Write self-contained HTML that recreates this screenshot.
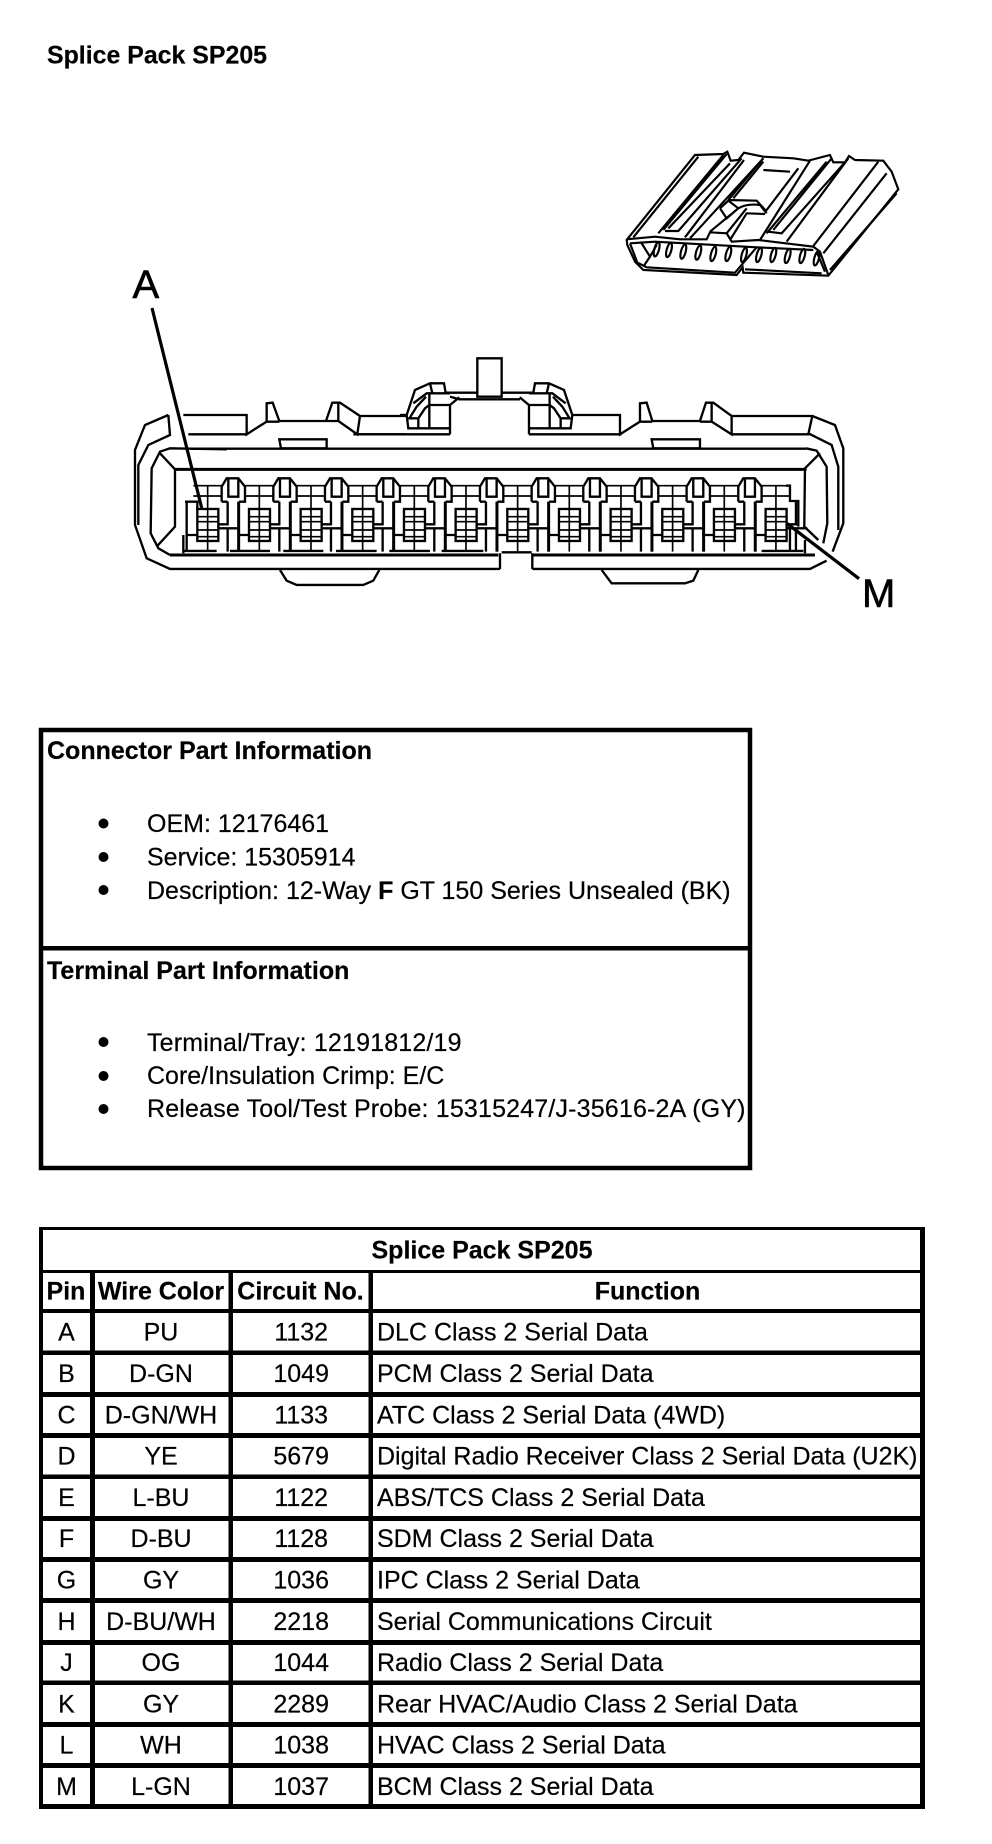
<!DOCTYPE html>
<html><head><meta charset="utf-8"><title>Splice Pack SP205</title>
<style>
html,body{margin:0;padding:0;background:#fff}
svg{display:block}
text{font-family:"Liberation Sans",Arial,sans-serif;fill:#000;font-size:25px;stroke:#000;stroke-width:.2px}
.b{font-weight:bold;font-size:25px}
.m{text-anchor:middle}
.d{fill:none;stroke:#000;stroke-width:7;stroke-linejoin:miter}
.t{stroke-width:5}
.k{stroke-width:9}
</style></head><body>
<svg width="992" height="1844" viewBox="0 0 992 1844" xmlns="http://www.w3.org/2000/svg">
<rect width="992" height="1844" fill="#fff"/>
<defs>
<g id="cell">
<rect x="0" y="507" width="63" height="96"/>
<path class="t" d="M0,530H63M0,545H63M0,570H63M0,590H63M31,507V603"/>
<path class="t" d="M31,437V507M31,603V635M-12,437H73M-12,468H73"/>
<path d="M-32,485V635M-32,585H0M91,485V553H63M63,565H125M91,565V635"/>
</g>
<g id="latch">
<path d="M73,485V440L88,415H123L143,440V485H125M73,485H91M93,415V470H123V415"/>
<path d="M125,485V635"/>
</g>
</defs>

<text class="b" x="47" y="63.5" textLength="220" lengthAdjust="spacingAndGlyphs">Splice Pack SP205</text>

<!-- isometric connector -->
<g class="d" transform="translate(600,130) scale(.3333)" style="stroke-width:6.5">
<path d="M80,330L285,75L370,72L382,65L392,92L415,90L432,68L490,80L580,85L625,92L690,75L700,97L735,97L747,78L765,90L850,92L875,125L895,178L685,437L430,428L428,412L410,435L130,420L105,395L82,345Z"/>
<path d="M100,322L295,80M175,310L370,75M190,300L380,72M195,303L235,303L425,85M205,295L390,100M255,322L432,90M270,325L490,85"/>
<path d="M80,328L165,320L240,328L320,328L330,307L380,310L395,335L475,330L640,350L660,365L685,435"/>
<path d="M90,340L165,335L470,352L640,360M90,340L112,398L140,412L405,428L470,352M435,418L665,430M650,365L675,425M125,340L150,380L170,345M150,380L130,410"/>
<path d="M385,210L490,85M400,205L490,95M385,210L470,212L500,245M500,240L595,115M490,120L570,125M360,235L385,212L415,235L380,265L360,235M330,305L415,235M415,235Q440,220 480,225L500,250M390,330L440,250L495,252M380,310L440,235"/>
<path d="M480,330L630,92M500,310L680,95M505,305L545,310L735,97M520,300L695,85M560,335L745,85M640,348L835,95M670,370L860,130M690,420L890,190"/>
<ellipse cx="170" cy="358" rx="7" ry="22" transform="rotate(15 170 358)"/>
<ellipse cx="207" cy="360" rx="7" ry="22" transform="rotate(15 207 360)"/>
<ellipse cx="250" cy="365" rx="7" ry="22" transform="rotate(15 250 365)"/>
<ellipse cx="295" cy="368" rx="7" ry="22" transform="rotate(15 295 368)"/>
<ellipse cx="340" cy="372" rx="7" ry="22" transform="rotate(15 340 372)"/>
<ellipse cx="385" cy="372" rx="7" ry="22" transform="rotate(15 385 372)"/>
<ellipse cx="432" cy="375" rx="7" ry="22" transform="rotate(15 432 375)"/>
<ellipse cx="477" cy="375" rx="7" ry="22" transform="rotate(15 477 375)"/>
<ellipse cx="520" cy="375" rx="7" ry="22" transform="rotate(15 520 375)"/>
<ellipse cx="563" cy="378" rx="7" ry="22" transform="rotate(15 563 378)"/>
<ellipse cx="607" cy="378" rx="7" ry="22" transform="rotate(15 607 378)"/>
<ellipse cx="650" cy="385" rx="7" ry="22" transform="rotate(15 650 385)"/>
</g>

<!-- main connector: left half coordinates -->
<g class="d" transform="translate(120,340) scale(.3333)">
<path d="M145,225L75,255L45,330V555L80,655L150,687H1140"/>
<path d="M145,225L150,285L85,315L55,375V555"/>
<path d="M320,328L150,325L120,335L95,385L92,580L115,625L150,645"/>
<path d="M120,340L165,388V560L110,620"/>
<path class="k" d="M165,388H2060"/>
<path d="M215,326H2058"/>
<path d="M190,225H380V283L440,245V190L458,188L478,243H618L637,188H660L720,228L712,283L655,243V190M440,245H478M618,243H655M205,283H380M712,283H860M720,228H860"/>
<path d="M478,298H620V325H483Z"/>
<path d="M480,690L500,722L530,735H730L760,722L778,690"/>
<path class="k" d="M150,645H1135"/>
<path d="M190,633H290M330,633H450M490,633H610M648,633H770M808,633H930M965,633H1090"/>
<path d="M190,585V640M195,485H232V510"/>
<use href="#cell" x="232"/><use href="#latch" x="232"/>
<use href="#cell" x="387"/><use href="#latch" x="387"/>
<use href="#cell" x="542"/><use href="#latch" x="542"/>
<use href="#cell" x="697"/><use href="#latch" x="697"/>
<use href="#cell" x="852"/><use href="#latch" x="852"/>
<use href="#cell" x="1007"/><use href="#latch" x="1007"/>
<use href="#cell" x="1162"/><use href="#latch" x="1162"/>
<use href="#cell" x="1317"/><use href="#latch" x="1317"/>
<use href="#cell" x="1472"/><use href="#latch" x="1472"/>
<use href="#cell" x="1627"/><use href="#latch" x="1627"/>
<use href="#cell" x="1782"/><use href="#latch" x="1782"/>
<use href="#cell" x="1937"/>
</g>

<!-- main connector: right half coordinates -->
<g class="d" transform="translate(400,340) scale(.3333)">
<path d="M232,55H305V170H232Z"/>
<path d="M20,225L45,150L90,130H132L137,158H232M90,130L97,160M20,225L25,265H150M40,190L80,160H150M30,232L50,200L78,170M55,265V235L75,205L88,195H150M88,160V265M25,235H55M150,283V195L178,172M150,170L178,178H360"/>
<path d="M517,225L492,150L447,130H405L400,158H305M447,130L440,160M517,225L512,265H387M497,190L457,160H387M507,232L487,200L459,170M482,265V235L462,205L449,195H387M449,160V265M512,235H482M387,283V195L359,172"/>
<path d="M0,225H20"/>
<path d="M-140,283H150M387,283H665M517,225H660V283L720,245V190L740,188L757,243H900L918,188H940L995,228V283L935,245V190M720,245H757M900,245H935"/>
<path d="M995,228H1237L1225,283H995"/>
<path d="M755,298H900V325H760Z"/>
<path d="M1237,228L1305,255L1330,325V550L1298,635M1225,280L1295,315L1315,380V570"/>
<path d="M1218,325L1250,332L1280,380L1282,550L1270,610"/>
<path d="M1260,340L1215,385L1213,560L1255,600"/>
<path d="M605,690L635,730H855L880,722L895,690"/>
<path d="M397,687H1230L1280,662"/>
<path d="M300,640V687M397,640V687M305,637H395"/>
<path class="k" d="M397,645H1245"/>
<path d="M1085,633H1210M1215,600V640"/>
<path d="M1158,437H1170V483H1195V560M1160,565H1170V635"/>
</g>

<!-- leaders and labels -->
<path d="M152,308L201.7,508M786.7,523.3L859,578.7" stroke="#000" stroke-width="3.2" fill="none"/>
<text x="132.5" y="298" style="font-size:40px;stroke-width:.6px">A</text>
<text x="862" y="607" style="font-size:40px;stroke-width:.6px">M</text>

<!-- part info box -->
<rect x="41" y="730" width="709" height="438" fill="none" stroke="#000" stroke-width="4.5"/>
<rect x="41" y="946" width="709" height="4.5" fill="#000"/>
<text class="b" x="47" y="759">Connector Part Information</text>
<text x="147" y="832">OEM: 12176461</text>
<text x="147" y="865.5">Service: 15305914</text>
<text x="147" y="899">Description: 12-Way <tspan font-weight="bold">F</tspan> GT 150 Series Unsealed (BK)</text>
<text class="b" x="47" y="979">Terminal Part Information</text>
<text x="147" y="1051" textLength="314.5">Terminal/Tray: 12191812/19</text>
<text x="147" y="1084">Core/Insulation Crimp: E/C</text>
<text x="147" y="1117" textLength="598.5">Release Tool/Test Probe: 15315247/J-35616-2A (GY)</text>
<circle cx="103.5" cy="823.5" r="5"/><circle cx="103.5" cy="857" r="5"/><circle cx="103.5" cy="890" r="5"/>
<circle cx="103.5" cy="1042" r="5"/><circle cx="103.5" cy="1076" r="5"/><circle cx="103.5" cy="1109" r="5"/>

<!-- table -->
<rect x="39" y="1227" width="886" height="3" fill="#000"/>
<rect x="39" y="1227" width="4" height="582" fill="#000"/>
<rect x="920" y="1227" width="5" height="582" fill="#000"/>
<rect x="39" y="1804" width="886" height="5" fill="#000"/>
<rect x="39" y="1270" width="886" height="3" fill="#000"/>
<rect x="39" y="1309" width="886" height="4" fill="#000"/>
<rect x="39" y="1350.5" width="886" height="4.5" fill="#000"/>
<rect x="39" y="1392" width="886" height="5" fill="#000"/>
<rect x="39" y="1433" width="886" height="5" fill="#000"/>
<rect x="39" y="1474.5" width="886" height="4.5" fill="#000"/>
<rect x="39" y="1516" width="886" height="5" fill="#000"/>
<rect x="39" y="1557" width="886" height="5" fill="#000"/>
<rect x="39" y="1598" width="886" height="5" fill="#000"/>
<rect x="39" y="1640" width="886" height="5" fill="#000"/>
<rect x="39" y="1680.5" width="886" height="4.5" fill="#000"/>
<rect x="39" y="1722" width="886" height="5" fill="#000"/>
<rect x="39" y="1763" width="886" height="5" fill="#000"/>
<rect x="90" y="1270" width="5" height="539" fill="#000"/>
<rect x="228.5" y="1270" width="4.5" height="539" fill="#000"/>
<rect x="368.5" y="1270" width="4.5" height="539" fill="#000"/>

<text class="b m" x="482" y="1258.5">Splice Pack SP205</text>
<text class="b m" x="66" y="1299.5">Pin</text>
<text class="b m" x="161" y="1299.5">Wire Color</text>
<text class="b m" x="300.5" y="1299.5">Circuit No.</text>
<text class="b m" x="647.5" y="1299.5">Function</text>

<text class="m" x="66.5" y="1340.7">A</text><text class="m" x="161" y="1340.7">PU</text><text class="m" x="301.2" y="1340.7">1132</text><text x="377" y="1340.7">DLC Class 2 Serial Data</text>
<text class="m" x="66.5" y="1382">B</text><text class="m" x="161" y="1382">D-GN</text><text class="m" x="301.2" y="1382">1049</text><text x="377" y="1382">PCM Class 2 Serial Data</text>
<text class="m" x="66.5" y="1423.3">C</text><text class="m" x="161" y="1423.3">D-GN/WH</text><text class="m" x="301.2" y="1423.3">1133</text><text x="377" y="1423.3">ATC Class 2 Serial Data (4WD)</text>
<text class="m" x="66.5" y="1464.6">D</text><text class="m" x="161" y="1464.6">YE</text><text class="m" x="301.2" y="1464.6">5679</text><text x="377" y="1464.6">Digital Radio Receiver Class 2 Serial Data (U2K)</text>
<text class="m" x="66.5" y="1505.9">E</text><text class="m" x="161" y="1505.9">L-BU</text><text class="m" x="301.2" y="1505.9">1122</text><text x="377" y="1505.9">ABS/TCS Class 2 Serial Data</text>
<text class="m" x="66.5" y="1547.2">F</text><text class="m" x="161" y="1547.2">D-BU</text><text class="m" x="301.2" y="1547.2">1128</text><text x="377" y="1547.2">SDM Class 2 Serial Data</text>
<text class="m" x="66.5" y="1588.5">G</text><text class="m" x="161" y="1588.5">GY</text><text class="m" x="301.2" y="1588.5">1036</text><text x="377" y="1588.5">IPC Class 2 Serial Data</text>
<text class="m" x="66.5" y="1629.8">H</text><text class="m" x="161" y="1629.8">D-BU/WH</text><text class="m" x="301.2" y="1629.8">2218</text><text x="377" y="1629.8">Serial Communications Circuit</text>
<text class="m" x="66.5" y="1671.1">J</text><text class="m" x="161" y="1671.1">OG</text><text class="m" x="301.2" y="1671.1">1044</text><text x="377" y="1671.1">Radio Class 2 Serial Data</text>
<text class="m" x="66.5" y="1712.4">K</text><text class="m" x="161" y="1712.4">GY</text><text class="m" x="301.2" y="1712.4">2289</text><text x="377" y="1712.4">Rear HVAC/Audio Class 2 Serial Data</text>
<text class="m" x="66.5" y="1753.7">L</text><text class="m" x="161" y="1753.7">WH</text><text class="m" x="301.2" y="1753.7">1038</text><text x="377" y="1753.7">HVAC Class 2 Serial Data</text>
<text class="m" x="66.5" y="1795">M</text><text class="m" x="161" y="1795">L-GN</text><text class="m" x="301.2" y="1795">1037</text><text x="377" y="1795">BCM Class 2 Serial Data</text>
</svg>
</body></html>
